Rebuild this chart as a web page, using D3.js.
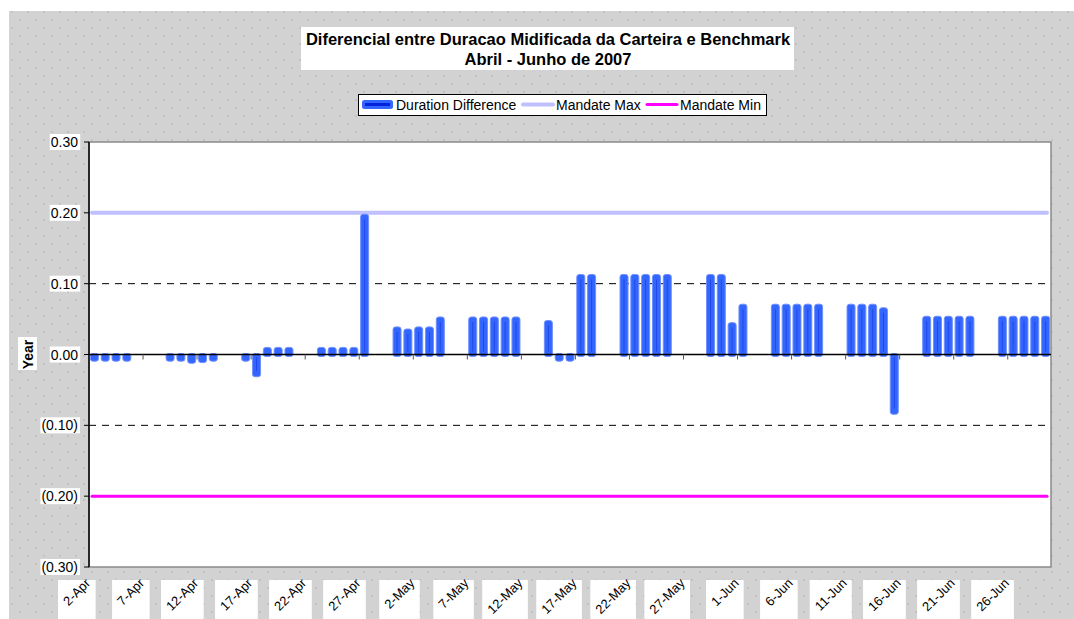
<!DOCTYPE html>
<html>
<head>
<meta charset="utf-8">
<script src="https://cdn.jsdelivr.net/npm/d3@7"></script>
<style>
  body { margin: 0; background: #fff; }
  svg text { font-family: Arial, "Liberation Sans", sans-serif; }
</style>
</head>
<body>
<div id="chart"></div>
<script>
// business days with a reading (Apr-Jun 2007)
var dates = [
  "2007-04-02","2007-04-03","2007-04-04","2007-04-05",
  "2007-04-09","2007-04-10","2007-04-11","2007-04-12","2007-04-13",
  "2007-04-16","2007-04-17","2007-04-18","2007-04-19","2007-04-20",
  "2007-04-23","2007-04-24","2007-04-25","2007-04-26","2007-04-27",
  "2007-04-30","2007-05-01","2007-05-02","2007-05-03","2007-05-04",
  "2007-05-07","2007-05-08","2007-05-09","2007-05-10","2007-05-11",
  "2007-05-14","2007-05-15","2007-05-16","2007-05-17","2007-05-18",
  "2007-05-21","2007-05-22","2007-05-23","2007-05-24","2007-05-25",
  "2007-05-29","2007-05-30","2007-05-31","2007-06-01",
  "2007-06-04","2007-06-05","2007-06-06","2007-06-07","2007-06-08",
  "2007-06-11","2007-06-12","2007-06-13","2007-06-14","2007-06-15",
  "2007-06-18","2007-06-19","2007-06-20","2007-06-21","2007-06-22",
  "2007-06-25","2007-06-26","2007-06-27","2007-06-28","2007-06-29"
];
var durationDiff = [
  -0.008,-0.008,-0.008,-0.008,
  -0.008,-0.008,-0.011,-0.010,-0.008,
  -0.008,-0.030,0.010,0.010,0.010,
  0.010,0.010,0.010,0.010,0.198,
  0.039,0.036,0.039,0.039,0.053,
  0.053,0.053,0.053,0.053,0.053,
  0.048,-0.008,-0.008,0.113,0.113,
  0.113,0.113,0.113,0.113,0.113,
  0.113,0.113,0.045,0.071,
  0.071,0.071,0.071,0.071,0.071,
  0.071,0.071,0.071,0.066,-0.083,
  0.054,0.054,0.054,0.054,0.054,
  0.054,0.054,0.054,0.054,0.054
];
var mandateMax = 0.20;
var mandateMin = -0.20;
var yTicks = [0.30, 0.20, 0.10, 0.00, -0.10, -0.20, -0.30];
var xTickDates = ["2007-04-02","2007-04-07","2007-04-12","2007-04-17","2007-04-22","2007-04-27",
  "2007-05-02","2007-05-07","2007-05-12","2007-05-17","2007-05-22","2007-05-27",
  "2007-06-01","2007-06-06","2007-06-11","2007-06-16","2007-06-21","2007-06-26"];
var xTickLabels = ["2-Apr","7-Apr","12-Apr","17-Apr","22-Apr","27-Apr",
  "2-May","7-May","12-May","17-May","22-May","27-May",
  "1-Jun","6-Jun","11-Jun","16-Jun","21-Jun","26-Jun"];
var legendNames = ["Duration Difference","Mandate Max","Mandate Min"];

var width = 1074, height = 619;
var plot = {left: 89, right: 1051, top: 142, bottom: 567};
var parse = d3.utcParse("%Y-%m-%d");

var svg = d3.select("#chart").append("svg")
  .attr("width", width).attr("height", height);

var defs = svg.append("defs");
var pat = defs.append("pattern").attr("id", "dots")
  .attr("width", 16).attr("height", 16).attr("patternUnits", "userSpaceOnUse");
pat.append("rect").attr("width", 16).attr("height", 16).attr("fill", "#d2d2d2");
pat.append("circle").attr("cx", 4).attr("cy", 4).attr("r", 0.9).attr("fill", "#bcbcbc");
pat.append("circle").attr("cx", 12).attr("cy", 12).attr("r", 0.9).attr("fill", "#bcbcbc");

svg.append("rect").attr("x", 9).attr("y", 11)
  .attr("width", width - 9).attr("height", height - 11).attr("fill", "url(#dots)");

var x = d3.scaleUtc()
  .domain([parse("2007-04-02"), parse("2007-06-30")])
  .range([plot.left, plot.right]);
var dayW = x(parse("2007-04-03")) - x(parse("2007-04-02"));
var y = d3.scaleLinear().domain([-0.3, 0.3]).range([plot.bottom, plot.top]);

// plot area
svg.append("rect")
  .attr("x", plot.left).attr("y", plot.top)
  .attr("width", plot.right - plot.left).attr("height", plot.bottom - plot.top)
  .attr("fill", "#fff").attr("stroke", "#8a8a8a").attr("stroke-width", 1.5);

// dashed gridlines
svg.append("g").selectAll("line")
  .data([0.10, -0.10])
  .enter().append("line")
  .attr("x1", plot.left).attr("x2", plot.right)
  .attr("y1", function(d) { return y(d); }).attr("y2", function(d) { return y(d); })
  .attr("stroke", "#000").attr("stroke-dasharray", "7,6");

// mandate lines
svg.append("line")
  .attr("x1", plot.left + 3).attr("x2", plot.right - 4)
  .attr("y1", y(mandateMax)).attr("y2", y(mandateMax))
  .attr("stroke", "#c0c0ff").attr("stroke-width", 4).attr("stroke-linecap", "round");
svg.append("line")
  .attr("x1", plot.left + 3).attr("x2", plot.right - 4)
  .attr("y1", y(mandateMin)).attr("y2", y(mandateMin))
  .attr("stroke", "#ff00ff").attr("stroke-width", 3).attr("stroke-linecap", "round");

// y axis
var yAxis = svg.append("g").attr("transform", "translate(" + plot.left + ",0)");
yAxis.append("line").attr("y1", plot.top).attr("y2", plot.bottom).attr("stroke", "#000").attr("stroke-width", 1.5);
var fmt = function(v) {
  var s = d3.format(".2f")(Math.abs(v));
  return v < 0 ? "(" + s + ")" : s;
};
var yt = yAxis.selectAll(".yt").data(yTicks).enter().append("g")
  .attr("class", "yt")
  .attr("transform", function(d) { return "translate(0," + y(d) + ")"; });
yt.append("line").attr("x1", -5).attr("x2", 0).attr("stroke", "#000");
yt.each(function(d) {
  var g = d3.select(this);
  var r = g.append("rect").attr("fill", "#fff");
  var t = g.append("text").attr("x", -11).attr("dy", "0.36em").attr("text-anchor", "end")
    .attr("font-size", 14).text(fmt(d));
  var bb = t.node().getBBox();
  r.attr("x", bb.x - 1).attr("y", -8).attr("width", bb.width + 3).attr("height", 16);
});

// y title
svg.append("rect").attr("x", 18).attr("y", 337).attr("width", 19).attr("height", 33).attr("fill", "#fff");
svg.append("text").attr("transform", "translate(33," + y(0) + ") rotate(-90)")
  .attr("text-anchor", "middle").attr("font-size", 14).attr("font-weight", "bold").text("Year");

// bars
var bars = svg.append("g");
var data = dates.map(function(d, i) { return {date: parse(d), value: durationDiff[i]}; });
bars.selectAll("rect").data(data).enter().append("rect")
  .attr("x", function(d) { return x(d.date) + dayW / 2 - 4; })
  .attr("width", 8)
  .attr("y", function(d) { return Math.min(y(d.value), y(0)) - (d.value > 0 ? 0 : 1); })
  .attr("height", function(d) { return Math.abs(y(d.value) - y(0)) + 2; })
  .attr("rx", 2.5)
  .attr("fill", "#3366ff").attr("stroke", "#6f90ff").attr("stroke-width", 1);
bars.selectAll("line").data(data.filter(function(d) { return Math.abs(y(d.value) - y(0)) > 12; }))
  .enter().append("line")
  .attr("x1", function(d) { return x(d.date) + dayW / 2; })
  .attr("x2", function(d) { return x(d.date) + dayW / 2; })
  .attr("y1", function(d) { return y(d.value) + (d.value > 0 ? 5 : -5); })
  .attr("y2", function(d) { return y(0) + (d.value > 0 ? -3 : 3); })
  .attr("stroke", "#2048e8").attr("stroke-width", 1);

// zero axis line with ticks
svg.append("line").attr("x1", plot.left).attr("x2", plot.right)
  .attr("y1", y(0)).attr("y2", y(0)).attr("stroke", "#000").attr("stroke-width", 1.5);
var xt = svg.append("g");
xt.selectAll("line").data(xTickDates.slice(1)).enter().append("line")
  .attr("x1", function(d) { return x(parse(d)); }).attr("x2", function(d) { return x(parse(d)); })
  .attr("y1", y(0)).attr("y2", y(0) + 5).attr("stroke", "#555");

// x labels with white boxes
var xl = svg.append("g");
xTickDates.forEach(function(d, i) {
  var px = x(parse(d));
  var g = xl.append("g");
  var r = g.append("rect").attr("fill", "#fff");
  var t = g.append("text")
    .attr("transform", "translate(" + (px + 2) + ",584) rotate(-45)")
    .attr("text-anchor", "end").attr("font-size", 13).text(xTickLabels[i]);
  var bb = t.node().getBoundingClientRect();
  r.attr("x", bb.left - 2).attr("y", 580).attr("width", bb.width + 4).attr("height", 45);
});

// title
svg.append("rect").attr("x", 301).attr("y", 27).attr("width", 493).attr("height", 43).attr("fill", "#fff");
svg.append("text").attr("x", 548).attr("y", 45).attr("text-anchor", "middle")
  .attr("font-size", 16.5).attr("font-weight", "bold")
  .text("Diferencial entre Duracao Midificada da Carteira e Benchmark");
svg.append("text").attr("x", 548).attr("y", 65).attr("text-anchor", "middle")
  .attr("font-size", 16.5).attr("font-weight", "bold").text("Abril - Junho de 2007");

// legend
var lg = svg.append("g");
lg.append("rect").attr("x", 358.5).attr("y", 94.5).attr("width", 408).attr("height", 21)
  .attr("fill", "#fff").attr("stroke", "#000");
lg.append("rect").attr("x", 362).attr("y", 100).attr("width", 31).attr("height", 9).attr("rx", 2.5)
  .attr("fill", "#3366ff");
lg.append("line").attr("x1", 365).attr("x2", 390).attr("y1", 104.5).attr("y2", 104.5)
  .attr("stroke", "#0022dd").attr("stroke-width", 3);
lg.append("line").attr("x1", 523).attr("x2", 553).attr("y1", 104.5).attr("y2", 104.5)
  .attr("stroke", "#c0c0ff").attr("stroke-width", 4).attr("stroke-linecap", "round");
lg.append("line").attr("x1", 647).attr("x2", 677).attr("y1", 104.5).attr("y2", 104.5)
  .attr("stroke", "#ff00ff").attr("stroke-width", 3).attr("stroke-linecap", "round");
var lx = [396, 556, 680];
legendNames.forEach(function(n, i) {
  lg.append("text").attr("x", lx[i]).attr("y", 110).attr("font-size", 14).text(n);
});
</script>
</body>
</html>
